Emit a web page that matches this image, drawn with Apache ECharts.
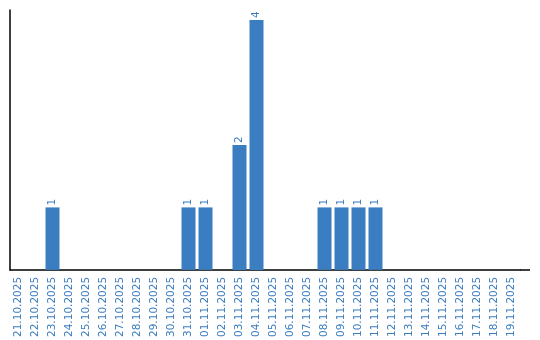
<!DOCTYPE html>
<html><head><meta charset="utf-8">
<script src="https://cdn.jsdelivr.net/npm/echarts@6/dist/echarts.min.js"></script>
<style>html,body{margin:0;padding:0;background:#fff}#c{width:540px;height:340px}</style>
</head><body><div id="c"></div>
<script>
const categories = ["21.10.2025","22.10.2025","23.10.2025","24.10.2025","25.10.2025","26.10.2025","27.10.2025","28.10.2025","29.10.2025","30.10.2025","31.10.2025","01.11.2025","02.11.2025","03.11.2025","04.11.2025","05.11.2025","06.11.2025","07.11.2025","08.11.2025","09.11.2025","10.11.2025","11.11.2025","12.11.2025","13.11.2025","14.11.2025","15.11.2025","16.11.2025","17.11.2025","18.11.2025","19.11.2025"];
const values = [0,0,1,0,0,0,0,0,0,0,1,1,0,2,4,0,0,0,1,1,1,1,0,0,0,0,0,0,0,0];

const chart = echarts.init(document.getElementById('c'), null, {renderer:'canvas'});
chart.setOption({
  animation:false,
  grid:{left:10, top:10, width:510, height:260},
  graphic:[{type:'line', shape:{x1:520,y1:270,x2:530,y2:270}, style:{stroke:'#000', lineWidth:1.5}, z:10}],
  xAxis:{type:'category', data:categories, boundaryGap:true,
    axisLine:{lineStyle:{color:'#000', width:1.5}},
    axisTick:{show:false},
    axisLabel:{interval:0, rotate:90, color:'#3c7dc0', fontFamily:'DejaVu Sans', fontSize:10.5, margin:7}
  },
  yAxis:{type:'value', min:0, max:4.16, splitLine:{show:false},
    axisLine:{show:true, lineStyle:{color:'#000', width:1.5}},
    axisTick:{show:false}, axisLabel:{show:false}
  },
  series:[{type:'bar', data:values.map(v=>v===0?null:v), barWidth:14,
    itemStyle:{color:'#3a7dc1'},
    label:{show:true, position:'top', rotate:90, align:'left', verticalAlign:'middle', distance:2,
      color:'#3c7dc0', fontFamily:'DejaVu Sans', fontSize:10.5}
  }]
});
</script></body></html>
